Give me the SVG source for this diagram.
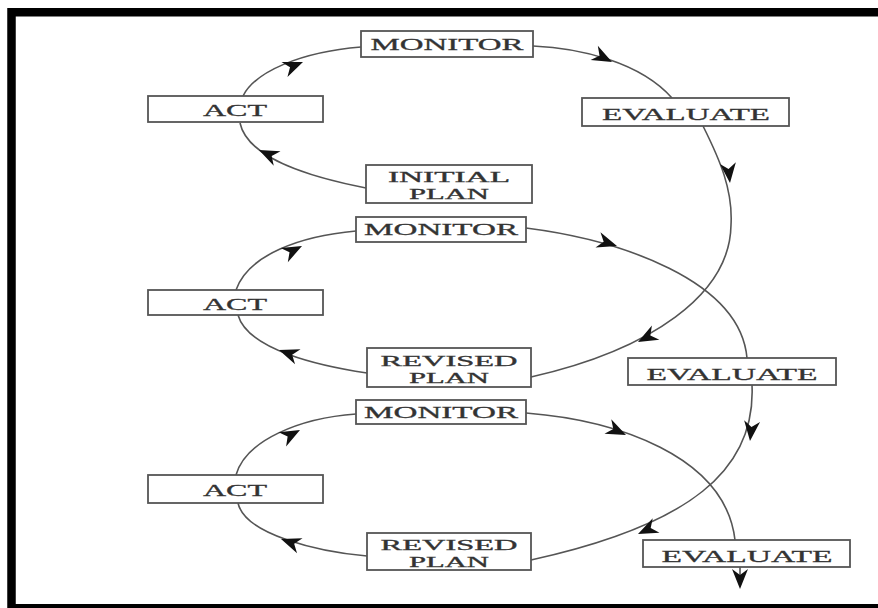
<svg xmlns="http://www.w3.org/2000/svg" xmlns:xlink="http://www.w3.org/1999/xlink" width="878" height="608" viewBox="0 0 878 608">
<defs>
<style>
.box{fill:#fff;stroke:#555;stroke-width:1.8}
.lbl{font-family:"Liberation Serif","Times New Roman",serif;font-size:17px;fill:#333;stroke:#333;stroke-width:0.3;text-anchor:middle}
.sm{font-size:14px}
.ln{fill:none;stroke:#555;stroke-width:1.6}
.ah{fill:#111}
</style>
<path id="ah" d="M0,0 L-20,-8 L-14,0 L-20,8 Z"/>
</defs>
<rect x="0" y="0" width="878" height="608" fill="#fff"/>
<rect x="11.5" y="12.25" width="880" height="596" fill="none" stroke="#000" stroke-width="8.5"/>
<g id="connectors">
<path class="ln" d="M366,188 C315,178 248,160 240,123"/>
<path class="ln" d="M243,96 C255,72 300,52 361,47"/>
<path class="ln" d="M533,46 C580,48 640,62 672,98"/>
<path class="ln" d="M703,126 C720,160 733,190 731,225 C730,295 650,350 531,377"/>
<path class="ln" d="M526,228 C620,240 740,280 747,358"/>
<path class="ln" d="M367,373 C320,366 248,350 238,315"/>
<path class="ln" d="M236,290 C248,255 300,236 356,231"/>
<path class="ln" d="M752,385 C756,470 690,525 531,560"/>
<path class="ln" d="M526,413 C615,420 725,455 735,540"/>
<path class="ln" d="M367,556 C320,552 245,535 238,503"/>
<path class="ln" d="M236,475 C246,440 300,418 356,414"/>
<path class="ln" d="M740,567 L740,576"/>
<use class="ah" href="#ah" transform="translate(259,150) rotate(205)"/>
<use class="ah" href="#ah" transform="translate(303,62) rotate(-22)"/>
<use class="ah" href="#ah" transform="translate(612,62) rotate(27)"/>
<use class="ah" href="#ah" transform="translate(730,183) rotate(84)"/>
<use class="ah" href="#ah" transform="translate(638,342) rotate(152)"/>
<use class="ah" href="#ah" transform="translate(617,246) rotate(18)"/>
<use class="ah" href="#ah" transform="translate(279,350) rotate(200)"/>
<use class="ah" href="#ah" transform="translate(302,246) rotate(-27)"/>
<use class="ah" href="#ah" transform="translate(750,441) rotate(96)"/>
<use class="ah" href="#ah" transform="translate(638,534) rotate(155)"/>
<use class="ah" href="#ah" transform="translate(626,435) rotate(25)"/>
<use class="ah" href="#ah" transform="translate(281,539) rotate(200)"/>
<use class="ah" href="#ah" transform="translate(300,430) rotate(-28)"/>
<use class="ah" href="#ah" transform="translate(740,589) rotate(90)"/>
</g>
<g id="monitor1"><rect class="box" x="361" y="31" width="172" height="26"/><text class="lbl" x="447" y="50" textLength="153" lengthAdjust="spacingAndGlyphs">MONITOR</text></g>
<g id="act1"><rect class="box" x="148" y="96" width="175" height="26"/><text class="lbl" x="235" y="116" textLength="64" lengthAdjust="spacingAndGlyphs">ACT</text></g>
<g id="evaluate1"><rect class="box" x="582" y="98" width="207" height="28"/><text class="lbl" x="686" y="120" textLength="168" lengthAdjust="spacingAndGlyphs">EVALUATE</text></g>
<g id="initialplan"><rect class="box" x="366" y="165" width="166" height="38"/><text class="lbl sm" x="449" y="182" textLength="122" lengthAdjust="spacingAndGlyphs">INITIAL</text><text class="lbl sm" x="449" y="199" textLength="80" lengthAdjust="spacingAndGlyphs">PLAN</text></g>
<g id="monitor2"><rect class="box" x="356" y="217" width="170" height="25"/><text class="lbl" x="441" y="235" textLength="154" lengthAdjust="spacingAndGlyphs">MONITOR</text></g>
<g id="act2"><rect class="box" x="148" y="290" width="175" height="25"/><text class="lbl" x="235" y="310" textLength="64" lengthAdjust="spacingAndGlyphs">ACT</text></g>
<g id="revisedplan1"><rect class="box" x="367" y="348" width="164" height="39"/><text class="lbl sm" x="449" y="366" textLength="137" lengthAdjust="spacingAndGlyphs">REVISED</text><text class="lbl sm" x="449" y="383" textLength="80" lengthAdjust="spacingAndGlyphs">PLAN</text></g>
<g id="evaluate2"><rect class="box" x="628" y="358" width="208" height="27"/><text class="lbl" x="732" y="380" textLength="171" lengthAdjust="spacingAndGlyphs">EVALUATE</text></g>
<g id="monitor3"><rect class="box" x="356" y="400" width="170" height="24"/><text class="lbl" x="441" y="418" textLength="154" lengthAdjust="spacingAndGlyphs">MONITOR</text></g>
<g id="act3"><rect class="box" x="148" y="475" width="175" height="28"/><text class="lbl" x="235" y="496" textLength="64" lengthAdjust="spacingAndGlyphs">ACT</text></g>
<g id="revisedplan2"><rect class="box" x="367" y="533" width="164" height="37"/><text class="lbl sm" x="449" y="550" textLength="137" lengthAdjust="spacingAndGlyphs">REVISED</text><text class="lbl sm" x="449" y="567" textLength="80" lengthAdjust="spacingAndGlyphs">PLAN</text></g>
<g id="evaluate3"><rect class="box" x="643" y="540" width="207" height="27"/><text class="lbl" x="747" y="562" textLength="171" lengthAdjust="spacingAndGlyphs">EVALUATE</text></g>
</svg>
